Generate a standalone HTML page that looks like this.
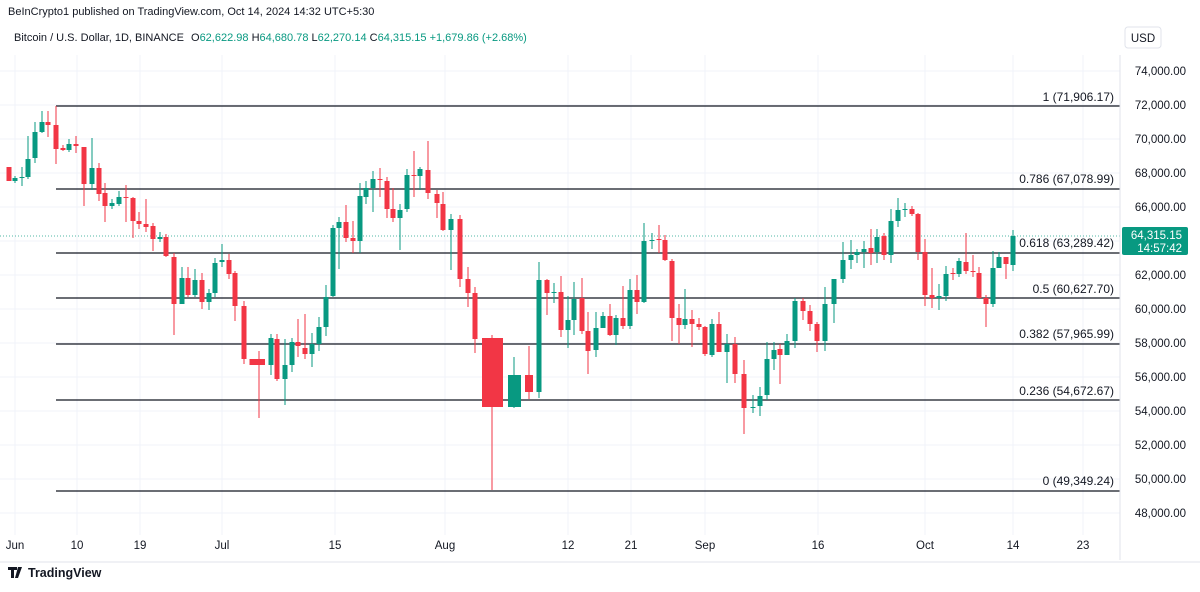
<!DOCTYPE html>
<html><head><meta charset="utf-8"><style>
body{margin:0;background:#fff;width:1200px;height:587px;overflow:hidden;font-family:"Liberation Sans",sans-serif;}
svg text{font-family:"Liberation Sans",sans-serif;}
</style></head><body>
<svg width="1200" height="587" xmlns="http://www.w3.org/2000/svg">
<rect width="1200" height="587" fill="#fff"/>
<g stroke="#f0f3fa" stroke-width="1">
<line x1="0" y1="71" x2="1120" y2="71"/><line x1="0" y1="105" x2="1120" y2="105"/><line x1="0" y1="139" x2="1120" y2="139"/><line x1="0" y1="173" x2="1120" y2="173"/><line x1="0" y1="207" x2="1120" y2="207"/><line x1="0" y1="241" x2="1120" y2="241"/><line x1="0" y1="275" x2="1120" y2="275"/><line x1="0" y1="309" x2="1120" y2="309"/><line x1="0" y1="343" x2="1120" y2="343"/><line x1="0" y1="377" x2="1120" y2="377"/><line x1="0" y1="411" x2="1120" y2="411"/><line x1="0" y1="445" x2="1120" y2="445"/><line x1="0" y1="479" x2="1120" y2="479"/><line x1="0" y1="513" x2="1120" y2="513"/>
<line x1="15" y1="55" x2="15" y2="535"/><line x1="77" y1="55" x2="77" y2="535"/><line x1="140" y1="55" x2="140" y2="535"/><line x1="222" y1="55" x2="222" y2="535"/><line x1="335" y1="55" x2="335" y2="535"/><line x1="445" y1="55" x2="445" y2="535"/><line x1="568" y1="55" x2="568" y2="535"/><line x1="631" y1="55" x2="631" y2="535"/><line x1="705" y1="55" x2="705" y2="535"/><line x1="818" y1="55" x2="818" y2="535"/><line x1="925" y1="55" x2="925" y2="535"/><line x1="1013" y1="55" x2="1013" y2="535"/><line x1="1083" y1="55" x2="1083" y2="535"/>
</g>
<line x1="0" y1="236" x2="1120" y2="236" stroke="#089981" stroke-width="1" stroke-dasharray="1,2" opacity="0.7"/>
<g stroke="#131722" stroke-width="1.3">
<line x1="56" y1="106" x2="1120" y2="106"/><line x1="56" y1="189" x2="1120" y2="189"/><line x1="56" y1="253" x2="1120" y2="253"/><line x1="56" y1="298" x2="1120" y2="298"/><line x1="56" y1="344" x2="1120" y2="344"/><line x1="56" y1="400" x2="1120" y2="400"/><line x1="56" y1="491" x2="1120" y2="491"/>
</g>
<g font-size="12" fill="#131722" text-anchor="end">
<text x="1114" y="101">1 (71,906.17)</text><text x="1114" y="183">0.786 (67,078.99)</text><text x="1114" y="247">0.618 (63,289.42)</text><text x="1114" y="293">0.5 (60,627.70)</text><text x="1114" y="338">0.382 (57,965.99)</text><text x="1114" y="395">0.236 (54,672.67)</text><text x="1114" y="485">0 (49,349.24)</text>
</g>
<g id="c"></g>
<line x1="1120" y1="55" x2="1120" y2="560" stroke="#e0e3eb"/>
<g font-size="11.5" fill="#131722" text-anchor="end">
<text x="1186" y="75">74,000.00</text><text x="1186" y="109">72,000.00</text><text x="1186" y="143">70,000.00</text><text x="1186" y="177">68,000.00</text><text x="1186" y="211">66,000.00</text><text x="1186" y="279">62,000.00</text><text x="1186" y="313">60,000.00</text><text x="1186" y="347">58,000.00</text><text x="1186" y="381">56,000.00</text><text x="1186" y="415">54,000.00</text><text x="1186" y="449">52,000.00</text><text x="1186" y="483">50,000.00</text><text x="1186" y="517">48,000.00</text>
</g>
<rect x="1122" y="227" width="66" height="28" rx="2" fill="#089981"/>
<text x="1182" y="239" font-size="11.5" fill="#fff" text-anchor="end">64,315.15</text>
<text x="1182" y="252" font-size="11.5" fill="#fff" text-anchor="end">14:57:42</text>
<g font-size="11.5" fill="#131722" text-anchor="middle">
<text x="15" y="549">Jun</text><text x="77" y="549">10</text><text x="140" y="549">19</text><text x="222" y="549">Jul</text><text x="335" y="549">15</text><text x="445" y="549">Aug</text><text x="568" y="549">12</text><text x="631" y="549">21</text><text x="705" y="549">Sep</text><text x="818" y="549">16</text><text x="925" y="549">Oct</text><text x="1013" y="549">14</text><text x="1083" y="549">23</text>
</g>
<text x="8" y="15" font-size="11" fill="#131722">BeInCrypto1 published on TradingView.com, Oct 14, 2024 14:32 UTC+5:30</text>
<text x="14" y="41" font-size="11" fill="#131722">Bitcoin / U.S. Dollar, 1D, BINANCE <tspan dx="4">O</tspan><tspan fill="#089981">62,622.98</tspan> <tspan>H</tspan><tspan fill="#089981">64,680.78</tspan> <tspan>L</tspan><tspan fill="#089981">62,270.14</tspan> <tspan>C</tspan><tspan fill="#089981">64,315.15 +1,679.86 (+2.68%)</tspan></text>
<rect x="1125" y="27" width="36" height="21" rx="3" fill="#fff" stroke="#e0e3eb"/>
<text x="1143" y="42" font-size="11.5" fill="#131722" text-anchor="middle">USD</text>
<line x1="0" y1="562" x2="1200" y2="562" stroke="#e0e3eb"/>
<path d="M8 567h9v3h-3v8h-3v-8h-3z M18 567h4l-4 11h-3z" fill="#131722"/>
<text x="28" y="577" font-size="12.5" font-weight="bold" fill="#131722">TradingView</text>
</svg>
<script>
var d=[
[9,167,181,167,181,0],[15,178,181,176,183,1],[22,177,178,167,186,1],[28,159,177,136,179,1],[35,132,158,122,163,1],[42,122,132,111,133,1],[48,122,125,111,137,0],[56,125,149,106,164,0],[63,148,150,145,151,0],[69,144,150,139,152,1],[76,144,146,136,153,0],[84,147,184,147,206,0],[92,168,184,138,190,1],[99,168,194,163,201,0],[105,193,206,183,222,0],[112,203,206,199,209,1],[119,197,204,191,206,1],[126,197,198,185,222,0],[133,198,221,197,238,0],[139,221,224,212,229,0],[146,224,227,199,232,0],[153,226,239,223,251,0],[160,237,239,232,242,1],[166,237,256,234,257,0],[174,257,304,253,335,0],[182,278,304,267,304,1],[188,278,295,267,297,0],[195,280,295,269,297,1],[202,280,302,273,309,0],[209,293,302,289,310,1],[215,263,293,258,297,1],[222,260,262,244,267,1],[229,260,274,254,279,0],[235,273,306,271,321,0],[244,306,359,301,364,0],[252,359,365,359,365,0],[259,359,365,351,418,0],[271,338,365,334,375,1],[277,339,379,334,381,0],[285,365,379,339,405,1],[292,342,365,338,372,1],[298,342,346,319,357,0],[305,348,354,314,359,0],[312,344,354,333,367,1],[319,327,344,317,351,1],[326,297,327,285,336,1],[333,228,296,225,297,1],[339,222,228,217,269,1],[346,222,238,205,242,0],[353,238,241,221,253,0],[360,196,241,183,253,1],[366,188,197,181,204,1],[373,179,188,171,212,1],[380,179,180,168,197,0],[387,181,209,177,218,0],[393,209,218,188,222,0],[400,210,218,204,250,1],[407,175,209,169,212,1],[414,175,176,151,197,0],[420,169,176,167,190,1],[428,170,193,141,199,0],[437,194,203,190,218,0],[443,204,230,192,231,0],[451,219,230,214,270,1],[460,219,279,215,287,0],[468,279,293,267,307,0],[475,293,339,287,353,0],
[539,280,392,262,398,1],[547,280,293,279,315,0],[554,292,293,283,303,1],[561,292,330,276,337,0],[568,320,330,296,348,1],[574,299,320,282,335,1],[582,298,331,278,334,0],[588,331,351,312,374,0],[596,328,350,312,357,1],[603,316,328,312,328,1],[610,316,335,304,336,0],[616,318,335,315,345,1],[623,318,326,286,329,0],[630,290,326,279,329,1],[637,290,302,275,314,0],[644,241,302,223,303,1],[652,240,241,233,249,1],[659,239,240,225,253,0],[665,240,260,235,261,0],[672,261,318,259,341,0],[679,318,325,304,344,0],[685,319,325,289,329,1],[692,319,324,310,347,0],[699,324,327,318,330,0],[705,327,354,326,356,0],[712,324,355,319,357,1],[719,324,352,312,352,0],[727,344,352,334,383,1],[735,344,374,337,383,0],[744,374,408,360,434,0],[753,407,408,395,413,1],[760,396,406,387,416,1],[767,359,395,342,400,1],[774,350,359,342,370,1],[780,349,355,344,384,0],[787,341,355,334,355,1],[795,301,341,298,348,1],[803,301,311,298,320,0],[810,311,324,305,331,0],[817,324,341,322,352,0],[825,304,341,287,351,1],[834,279,304,279,323,1],[843,260,279,242,283,1],[851,255,260,240,269,1],[857,252,255,249,263,1],[864,249,252,241,268,1],[871,248,253,229,265,0],[877,237,252,229,263,1],[884,236,255,233,260,0],[891,221,255,209,263,1],[898,210,221,198,227,1],[905,209,210,203,217,1],[912,209,214,206,216,0],[918,214,252,213,260,0],[925,252,295,239,306,0],[932,295,298,268,308,0],[939,296,298,284,310,1],[946,274,296,266,301,1],[953,273,274,268,280,0],[959,261,274,258,277,1],[966,262,271,233,274,0],[973,271,272,255,277,0],[979,273,298,267,299,0],[986,298,304,295,327,0],[993,268,304,251,307,1],[999,257,268,252,268,1],[1006,257,264,257,279,0],[1013,236,265,230,271,1]];
var s='',G='#089981',R='#F23645';
d.forEach(function(c){var col=c[5]?G:R;s+='<line x1="'+c[0]+'" y1="'+c[3]+'" x2="'+c[0]+'" y2="'+c[4]+'" stroke="'+col+'" stroke-width="1"/>';s+='<rect x="'+(c[0]-2.5)+'" y="'+c[1]+'" width="5" height="'+Math.max(1,c[2]-c[1])+'" fill="'+col+'"/>';});
s+='<line x1="492" y1="335" x2="492" y2="490" stroke="'+R+'"/><rect x="482" y="338" width="21" height="69" fill="'+R+'"/>';
s+='<line x1="514" y1="357" x2="514" y2="408" stroke="'+G+'"/><rect x="508" y="375" width="13" height="32" fill="'+G+'"/>';
s+='<line x1="529" y1="346" x2="529" y2="399" stroke="'+R+'"/><rect x="525" y="375" width="8" height="17" fill="'+R+'"/>';
s+='<rect x="252" y="359" width="13" height="6" fill="'+R+'"/>';
document.getElementById('c').innerHTML=s;
</script>
</body></html>
